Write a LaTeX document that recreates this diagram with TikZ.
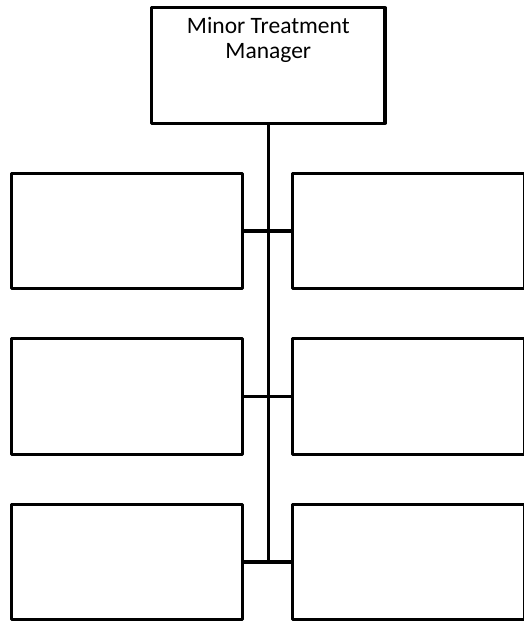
\documentclass[tikz,border=0pt]{standalone}
\usepackage{fontspec}
\setmainfont{Carlito}
\tikzset{
    common/.style={draw, rectangle, line width=3.3pt, line join=round, inner sep=0pt},
    staffbox/.style={common, minimum width=231.6pt, minimum height=115.4pt},
    headbox/.style={common, minimum width=233.3pt, minimum height=115.5pt},
    headtext/.style={anchor=north, align=center, inner sep=0pt, font=\fontsize{23.5}{25}\selectfont},
    link/.style={line width=3.3pt}
}
\begin{document}
\begin{tikzpicture}[x=1pt, y=-1pt]
    \useasboundingbox (0,0) rectangle (523,622);
    \node[headbox] (mgr) at (268.3,65.5) {};
    \node[headtext] (mgrlabel) at ([yshift=-11.5pt]mgr.north) {Minor Treatment\\Manager};
    \foreach \row/\y in {1/231, 2/396.5, 3/562} {
        \node[staffbox] (left\row) at (127,\y) {};
        \node[staffbox] (right\row) at (408.6,\y) {};
        \draw[link] (left\row.east) -- (right\row.west);
    }
    \coordinate (trunkend) at (mgr.south |- left3.east);
    \draw[link] (mgr.south) -- (trunkend);
\end{tikzpicture}
\end{document}
